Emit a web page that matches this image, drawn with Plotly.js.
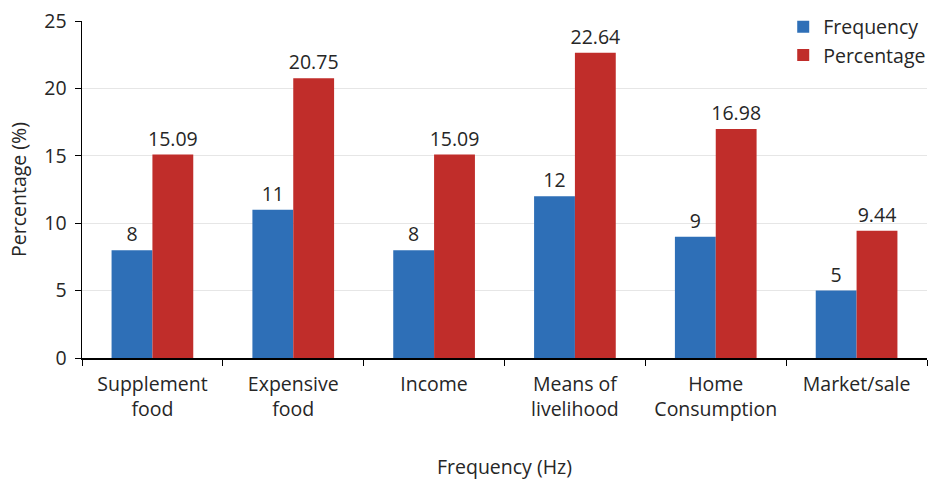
<!DOCTYPE html>
<html>
<head>
<meta charset="utf-8">
<script src="https://cdn.plot.ly/plotly-3.0.1.min.js"></script>
<style>html,body{margin:0;padding:0;background:#fff;}#chart{width:931px;height:483px;}</style>
</head>
<body>
<div id="chart"></div>
<script>
const categories = ["Supplement<br>food", "Expensive<br>food", "Income", "Means of<br>livelihood", "Home<br>Consumption", "Market/sale"];
const frequency = [8, 11, 8, 12, 9, 5];
const percentage = [15.09, 20.75, 15.09, 22.64, 16.98, 9.44];
const seriesNames = ["Frequency", "Percentage"];
const yTicks = [0, 5, 10, 15, 20, 25];

const font = "Open Sans, Noto Sans, sans-serif";
const txt = "#262626";
const fs = 19.5;
const data = [
  {type: "bar", name: seriesNames[0], x: categories, y: frequency,
   text: frequency.map(String), textposition: "outside", cliponaxis: false, constraintext: "none",
   textfont: {size: fs, color: txt},
   marker: {color: "#2E6FB7"}},
  {type: "bar", name: seriesNames[1], x: categories, y: percentage,
   text: percentage.map(v => v.toFixed(2)), textposition: "outside", cliponaxis: false, constraintext: "none",
   textfont: {size: fs, color: txt},
   marker: {color: "#C02D2A"}}
];
const layout = {
  width: 931, height: 483,
  margin: {l: 82, r: 4, t: 21, b: 125, autoexpand: false},
  paper_bgcolor: "#fff", plot_bgcolor: "#fff",
  font: {family: font, size: fs, color: txt},
  barmode: "group", bargap: 0.42, bargroupgap: 0,
  showlegend: true,
  legend: {x: 1.005, xanchor: "right", y: 1.04, yanchor: "top", bgcolor: "rgba(0,0,0,0)",
           font: {size: fs, color: txt}, itemwidth: 30},
  xaxis: {type: "category", tickson: "boundaries", ticks: "outside", ticklen: 6, tickcolor: "#000",
          showline: true, linecolor: "#000", linewidth: 1.5, showgrid: false,
          tickfont: {size: fs, color: txt}, ticklabelstandoff: 8,
          title: {text: "Frequency (Hz)", font: {size: fs, color: txt}, standoff: 39}},
  yaxis: {range: [0, 25], tickvals: yTicks, ticks: "outside", ticklen: 6, tickcolor: "#000",
          showline: true, linecolor: "#000", linewidth: 1.5, showgrid: true, gridcolor: "#e6e6e6",
          zeroline: false, tickfont: {size: fs, color: txt}, ticklabelstandoff: 4,
          title: {text: "Percentage (%)", font: {size: fs, color: txt}, standoff: 12}}
};
Plotly.newPlot("chart", data, layout, {displayModeBar: false, staticPlot: true});
</script>
</body>
</html>
